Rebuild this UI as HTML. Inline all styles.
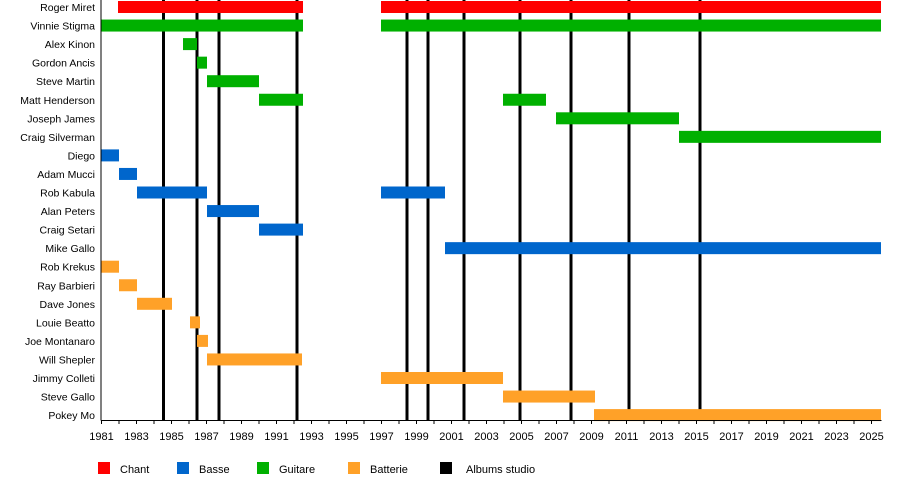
<!DOCTYPE html>
<html><head><meta charset="utf-8"><style>
html,body{margin:0;padding:0;background:#fff;width:900px;height:480px;overflow:hidden}
text{font-family:"Liberation Sans",sans-serif;font-size:11px;fill:#000}
text.lab{font-size:10.5px}
</style></head><body>
<svg width="900" height="480" xmlns="http://www.w3.org/2000/svg">
<g id="g"></g>
</svg>
<script>
const g=document.getElementById('g');
const X=y=>101.5+(y-1981)*17.5;
const R='#ff0000',B='#0066cc',G='#00b000',O='#ffa128';
const rows=[
["Roger Miret",[[118,303,R],[381,881,R]]],
["Vinnie Stigma",[[101,303,G],[381,881,G]]],
["Alex Kinon",[[183,197,G]]],
["Gordon Ancis",[[197,207,G]]],
["Steve Martin",[[207,259,G]]],
["Matt Henderson",[[259,303,G],[503,546,G]]],
["Joseph James",[[556,679,G]]],
["Craig Silverman",[[679,881,G]]],
["Diego",[[101,119,B]]],
["Adam Mucci",[[119,137,B]]],
["Rob Kabula",[[137,207,B],[381,445,B]]],
["Alan Peters",[[207,259,B]]],
["Craig Setari",[[259,303,B]]],
["Mike Gallo",[[445,881,B]]],
["Rob Krekus",[[101,119,O]]],
["Ray Barbieri",[[119,137,O]]],
["Dave Jones",[[137,172,O]]],
["Louie Beatto",[[190,200,O]]],
["Joe Montanaro",[[197,208,O]]],
["Will Shepler",[[207,302,O]]],
["Jimmy Colleti",[[381,503,O]]],
["Steve Gallo",[[503,595,O]]],
["Pokey Mo",[[594,881,O]]]];
let s='';
[163.5,197,219,297,407,428,464,520,571,629,700].forEach(x=>s+=`<rect x="${x-1.5}" y="0" width="3" height="420" fill="#000"/>`);
rows.forEach((r,i)=>{const t=1+i*18.55;
 s+=`<text class="lab" x="95" y="${t+10}" text-anchor="end">${r[0]}</text>`;
 r[1].forEach(b=>s+=`<rect x="${b[0]}" y="${t}" width="${b[1]-b[0]}" height="12" fill="${b[2]}"/>`);});
s+=`<line x1="101" y1="0" x2="101" y2="420.5" stroke="#000"/><line x1="101" y1="420.5" x2="881.5" y2="420.5" stroke="#000"/>`;
for(let y=1981;y<=2025;y++){const x=X(y);s+=`<line x1="${x}" y1="420" x2="${x}" y2="424" stroke="#000"/>`;
 if(y%2==1)s+=`<text x="${x}" y="440" text-anchor="middle">${y}</text>`;}
[[98,'Chant',R,120],[177,'Basse',B,199],[257,'Guitare',G,279],[348,'Batterie',O,370],[440,'Albums studio','#000',466]].forEach(l=>{
 s+=`<rect x="${l[0]}" y="462" width="12" height="12" fill="${l[2]}"/><text x="${l[3]}" y="473">${l[1]}</text>`;});
g.innerHTML=s;
</script>
</body></html>
